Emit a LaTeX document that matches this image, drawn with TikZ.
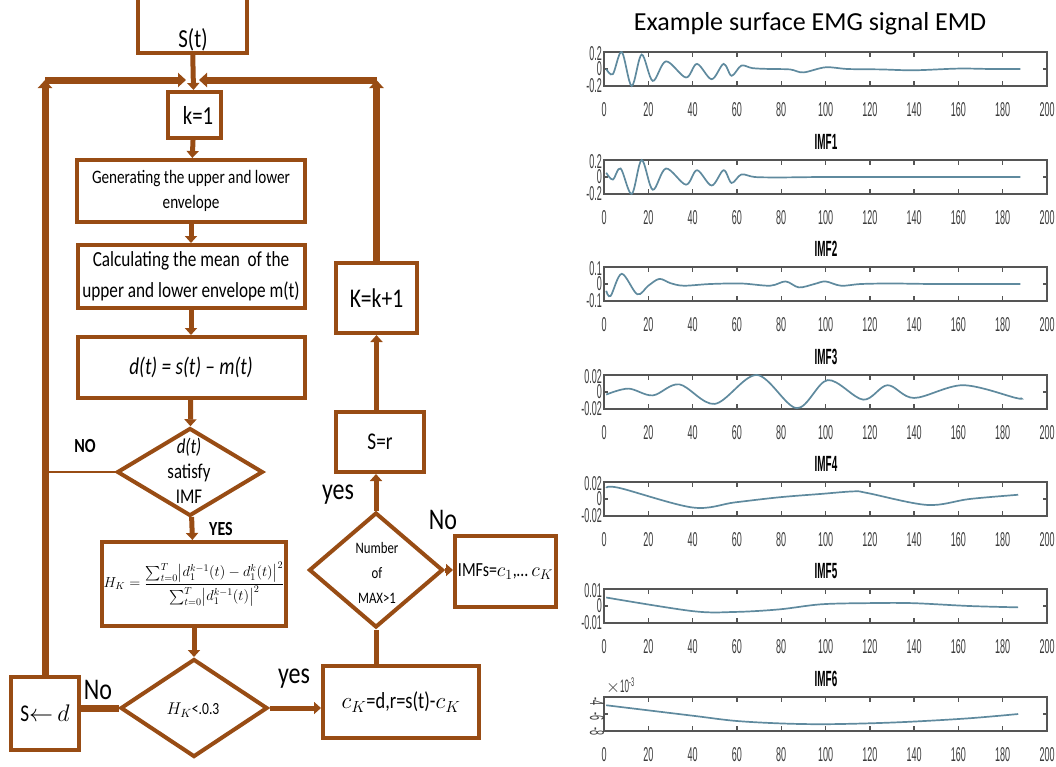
\RequirePackage{fix-cm}
\documentclass[tikz,border=0pt]{standalone}
\usepackage{amsmath}
\usepackage{fontspec}
\setmainfont{Carlito}[FakeStretch=0.8]
\newfontfamily\titlefont{Carlito}
\newfontfamily\plotfont{Liberation Sans}[FakeStretch=0.45]
\usetikzlibrary{arrows.meta,shapes.geometric}
\definecolor{emdbrown}{RGB}{152,76,20}
\definecolor{axisgray}{RGB}{85,85,85}
\definecolor{sigblue}{RGB}{95,138,158}
\tikzset{
  box/.style={draw=emdbrown,line width=4pt,fill=white,inner sep=1pt,align=center},
  dia/.style={diamond,draw=emdbrown,line width=4pt,fill=white,inner sep=0pt},
  flow/.style={draw=emdbrown,line width=5pt,-{Triangle[length=7pt,width=12pt]}},
  loopline/.style={draw=emdbrown,line width=7pt},
  loopflow/.style={loopline,-{Triangle[length=8pt,width=14pt]}},
  answer/.style={font=\fontsize{30}{32}\selectfont,inner sep=0pt},
  frame/.style={draw=axisgray,line width=1.4pt},
  sig/.style={draw=sigblue,line width=1.7pt,smooth,tension=0.55},
  ticklbl/.style={font=\plotfont\fontsize{20}{21}\selectfont,text=axisgray!70!black,inner sep=0pt},
}

\begin{document}
\begin{tikzpicture}[x=1pt,y=-1pt]
  \useasboundingbox (0,0) rectangle (1056,766);

  % flowchart
  \node[box,minimum width=109,minimum height=70] (st) at (192,18) {};
  \node[font=\fontsize{26}{28}\selectfont] (stlbl) at (193,40) {S(t)};
  \node[box,minimum width=53,minimum height=46,font=\fontsize{26}{28}\selectfont,text depth=-5pt] (k1) at (194,115) {\hspace*{8pt}k=1};
  \node[box,minimum width=228,minimum height=62,font=\fontsize{19}{25}\selectfont] (gen) at (191,191)
    {Generating the upper and lower\\envelope};
  \node[box,minimum width=227,minimum height=63,font=\fontsize{21.5}{31}\selectfont] (calc) at (191,276.5)
    {Calculating the mean\ \ of the\\upper and lower envelope m(t)};
  \node[box,minimum width=227,minimum height=61,font=\fontsize{24}{26}\selectfont\itshape] (dbox) at (191,367.5)
    {d(t) = s(t) -- m(t)};
  \node[dia,minimum width=146,minimum height=88] (dia1) at (190,472) {};
  \node[align=center,font=\fontsize{21}{25}\selectfont] (dia1txt) at (189,471) {\textit{d(t)}\\satisfy\\IMF};
  \node[box,minimum width=184,minimum height=84] (hk) at (194,584)
    {\fontsize{14.5}{16}\selectfont$H_K=\dfrac{\sum_{t=0}^{T}\bigl|d_1^{k-1}(t)-d_1^{k}(t)\bigr|^2}{\sum_{t=0}^{T}\bigl|d_1^{k-1}(t)\bigr|^2}$};
  \node[dia,minimum width=147,minimum height=98] (dia2) at (194,708) {};
  \node[font=\fontsize{17}{20}\selectfont] (dia2txt) at (193,710) {$H_K$<.0.3};
  \node[box,minimum width=68,minimum height=73,font=\fontsize{24}{26}\selectfont] (sd) at (45,713.5) {S$\leftarrow$ $d$};
  \node[box,minimum width=156,minimum height=72,font=\fontsize{23}{26}\selectfont] (ck) at (401,702) {$c_K$=d,r=s(t)-$c_K$};
  \node[dia,minimum width=134,minimum height=115] (dia3) at (376,570) {};
  \node[align=center,font=\fontsize{16}{25}\selectfont] (dia3txt) at (377,573) {Number\\of\\MAX>1};
  \node[box,minimum width=101,minimum height=71,font=\fontsize{20}{24}\selectfont] (imfs) at (505.5,571.5) {IMFs=$c_1$,\dots\ $c_K$};
  \node[box,minimum width=88,minimum height=60,font=\fontsize{24}{26}\selectfont] (sr) at (380,442) {S=r};
  \node[box,minimum width=81,minimum height=70,font=\fontsize{27}{30}\selectfont] (kk) at (376.5,298) {K=k+1};

  \node[font=\bfseries\fontsize{20}{22}\selectfont] (nolbl) at (85,446) {NO};
  \node[font=\bfseries\fontsize{20}{22}\selectfont] (yeslbl) at (221,529) {YES};
  \node[answer] (no2) at (98,690) {No};
  \node[answer] (yes2) at (294,679) {yes};
  \node[answer] (yes3) at (338,495) {yes};
  \node[answer] (no3) at (443,520) {No};

  \coordinate (lc) at (45,80);
  \coordinate (rc) at (376.5,80);
  \coordinate (ml) at (186,80);
  \coordinate (mr) at (199,80);

  \draw[flow] (st) -- (k1);
  \draw[flow] (k1) -- (gen);
  \draw[flow] (gen) -- (calc);
  \draw[flow] (calc) -- (dbox);
  \draw[flow] (dbox) -- (dia1);
  \draw[flow] (dia1) -- (hk);
  \draw[flow] (hk) -- (dia2);
  \draw[loopline] (dia2.west) -- (dia2.west -| sd.east);
  \draw[flow] (dia2.east) -- (dia2.east -| ck.west);
  \draw[draw=emdbrown,line width=5pt] (dia3.south |- ck.north) -- (dia3.south);
  \draw[flow] (dia3.east) -- (dia3.east -| imfs.west);
  \draw[flow] (dia3.north) -- (dia3.north |- sr.south);
  \draw[flow] (kk.south |- sr.north) -- (kk.south);
  \draw[draw=emdbrown,line width=2.5pt] (dia1.west) -- (dia1.west -| sd.north);
  \draw[loopflow] (sd) -- (lc);
  \draw[loopflow] (lc) -- (ml);
  \draw[loopflow] (kk) -- (rc);
  \draw[loopflow] (rc) -- (mr);

  % EMD plots
  \node[font=\titlefont\fontsize{26}{30}\selectfont,inner sep=0pt] (title) at (810,24) {Example surface EMG signal EMD};
  \foreach \top in {52,160,267,375,482,589,697}{
    \draw[frame] (604,\top) rectangle (1047,\top+34);
    \foreach \t in {20,40,...,180}
      \draw[frame] (604+2.215*\t,\top) -- ++(0,5) (604+2.215*\t,\top+34) -- ++(0,-5);
    \draw[frame] (604,\top+17) -- ++(4,0) (1047,\top+17) -- ++(-4,0);
    \foreach \t in {0,20,...,200}
      \node[ticklbl] (x-\top-\t) at (604+2.215*\t,\top+58) {\t};
  }
  \foreach \top/\ya/\yc in {52/0.2/-0.2,160/0.2/-0.2,267/0.1/-0.1,375/0.02/-0.02,482/0.02/-0.02,589/0.01/-0.01}{
    \node[ticklbl,anchor=east] (ya-\top) at (602,\top+2) {\ya};
    \node[ticklbl,anchor=east] (ym-\top) at (602,\top+17) {0};
    \node[ticklbl,anchor=east] (yc-\top) at (602,\top+34) {\yc};
  }
  \node[ticklbl,rotate=-90] (ya-697) at (597,701) {-4};
  \node[ticklbl,rotate=-90] (ym-697) at (597,716) {-6};
  \node[ticklbl,rotate=-90] (yc-697) at (597,731) {-8};
  \node[ticklbl,anchor=west,font=\plotfont\fontsize{18}{19}\selectfont] (exp6) at (606,686) {$\times$10\textsuperscript{-3}};
  \foreach \i/\top in {1/160,2/267,3/375,4/482,5/589,6/697}
    \node[font=\plotfont\bfseries\fontsize{22}{24}\selectfont,inner sep=0pt] (imf\i) at (826,\top-18) {IMF\i};

  \begin{scope}[shift={(604,69)},x=2.215pt,y=85pt]
    \draw[sig] plot coordinates {(1,0) (4,-0.06) (8,0.2) (12.5,-0.2) (17,0.17) (22,-0.14) (28,0.09) (37,-0.1)
      (42,0.06) (48.6,-0.12) (54,0.06) (57.6,-0.08) (62,0.04) (67,0.01) (75,0) (84,-0.005) (90,-0.04)
      (100,0.02) (110,0) (125,-0.005) (140,-0.015) (160,0.005) (175,0) (188,0)};
  \end{scope}
  \begin{scope}[shift={(604,177)},x=2.215pt,y=85pt]
    \draw[sig] plot coordinates {(1,0.05) (4,-0.03) (7.5,0.1) (12.5,-0.2) (17,0.2) (22,-0.15) (28,0.1) (37,-0.09)
      (42,0.08) (48.6,-0.1) (54,0.08) (57.6,-0.07) (62,0.03) (68,0) (80,-0.005) (100,0) (140,0) (188,0)};
  \end{scope}
  \begin{scope}[shift={(604,284)},x=2.215pt,y=170pt]
    \draw[sig] plot coordinates {(1,-0.04) (3,-0.07) (8,0.06) (15,-0.06) (20,-0.01) (25,0.03) (30,0.005) (36,-0.01)
      (48,0) (62,0.003) (75,-0.01) (82,0.015) (88,-0.02) (95,0) (100,0.015) (107,-0.01) (116,0) (130,0.003)
      (150,0) (188,0)};
  \end{scope}
  \begin{scope}[shift={(604,392)},x=2.215pt,y=850pt]
    \draw[sig] plot coordinates {(1,-0.003) (11,0.004) (22,-0.004) (34,0.009) (50,-0.014) (69,0.02) (87,-0.019)
      (101,0.014) (117,-0.009) (128,0.008) (140,-0.007) (162,0.008) (186,-0.007) (188,-0.007)};
  \end{scope}
  \begin{scope}[shift={(604,499)},x=2.215pt,y=850pt]
    \draw[sig] plot coordinates {(1,0.013) (7,0.013) (40,-0.01) (59,-0.004) (79,0.002) (98,0.006) (113,0.009)
      (119,0.007) (146,-0.007) (165,0) (187,0.005)};
  \end{scope}
  \begin{scope}[shift={(604,606)},x=2.215pt,y=1700pt]
    \draw[sig] plot coordinates {(1,0.005) (40,-0.003) (59,-0.0035) (79,-0.002) (98,0.001) (119,0.0017)
      (139,0.0017) (165,0) (187,-0.0008)};
  \end{scope}
  \begin{scope}[shift={(604,714)},x=2.215pt,y=8.5pt]
    \draw[sig] plot coordinates {(1,1.03) (40,-0.2) (59,-0.8) (79,-1.1) (98,-1.2) (119,-1.1) (139,-0.9)
      (165,-0.5) (187,0)};
  \end{scope}
\end{tikzpicture}
\end{document}
